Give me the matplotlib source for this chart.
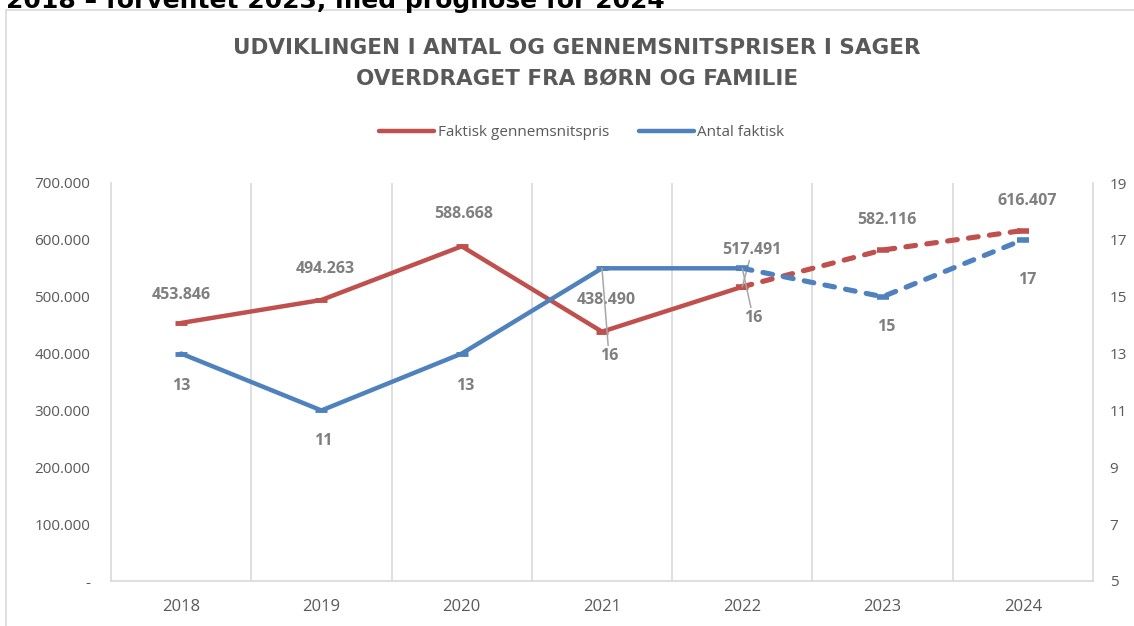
import numpy as np
import matplotlib
matplotlib.use("Agg")
import matplotlib.pyplot as plt
from matplotlib.patches import Rectangle

# -------------------------
# Data
# -------------------------
years = ["2018", "2019", "2020", "2021", "2022", "2023", "2024"]
pris = [453846, 494263, 588668, 438490, 517491, 582116, 616407]
antal = [13, 11, 13, 16, 16, 15, 17]

# last actual year index (dashed after this)
split = 4

# label offsets in pixels (dx, dy) and leader lines
pris_off = [(0, 28), (4, 31), (2, 32), (4, 32), (10, 37), (4, 30), (4, 30)]
antal_off = [(0, -32), (2, -31), (4, -32), (7, -88), (11, -50), (4, -30), (4, -40)]
pris_leader = [False, False, False, False, True, False, False]
antal_leader = [False, False, False, True, True, False, False]

RED = "#c0504d"
BLUE = "#4f81bd"
TXT = "#595959"
LBL = "#7f7f7f"
GRID = "#d9d9d9"

plt.rcParams["font.family"] = ["Open Sans", "DejaVu Sans"]

W, H = 1134, 626
fig = plt.figure(figsize=(W / 100, H / 100), dpi=100)

# chart border
fig.patches.append(Rectangle((6 / W, -0.05), 1.1, 1 - 10 / H + 0.05,
                             transform=fig.transFigure, fill=False,
                             edgecolor=GRID, lw=1.2))

# cut-off heading above the chart (cut off in the reference too)
fig.text(6 / W, 1 - 8 / H, "2018 – forventet 2023, med prognose for 2024",
         fontsize=18, fontweight="bold", family="DejaVu Sans",
         color="black", va="baseline", ha="left")

# title
fig.text(577 / W, 1 - 48 / H,
         "UDVIKLINGEN I ANTAL OG GENNEMSNITSPRISER I SAGER",
         fontsize=15.5, fontweight="bold", family="DejaVu Sans",
         color=TXT, ha="center", va="center")
fig.text(577 / W, 1 - 79 / H,
         "OVERDRAGET FRA BØRN OG FAMILIE",
         fontsize=15.5, fontweight="bold", family="DejaVu Sans",
         color=TXT, ha="center", va="center")

# -------------------------
# Axes
# -------------------------
ax = fig.add_axes([111 / W, 1 - 581 / H, (1093 - 111) / W, (581 - 183) / H])
ax2 = ax.twinx()

x = np.arange(len(years)) + 0.5

ax.set_xlim(0, len(years))
ax.set_ylim(0, 700000)
ax2.set_ylim(5, 19)

yt = np.arange(0, 700001, 100000)
ax.set_yticks(yt, ["-" if v == 0 else f"{v:,}".replace(",", ".") for v in yt])
ax2.set_yticks(np.arange(5, 20, 2))
ax.set_xticks(x, years)
ax.set_xticks(np.arange(1, len(years)), minor=True)
ax.grid(which="minor", axis="x", color=GRID, lw=1.2)

ax.tick_params(axis="y", length=0, pad=15, labelsize=11, labelcolor=TXT)
ax.tick_params(axis="x", which="both", length=0, pad=13, labelsize=12,
               labelcolor=TXT)
ax2.tick_params(axis="y", length=0, pad=12, labelsize=11, labelcolor=TXT)

for s in ["left", "right", "bottom"]:
    ax.spines[s].set_color(GRID)
    ax.spines[s].set_linewidth(1.2)
ax.spines["top"].set_visible(False)
for s in ax2.spines.values():
    s.set_visible(False)

# -------------------------
# Lines
# -------------------------
solid_kw = dict(lw=3.2, marker="_", ms=8, mew=3.5, solid_capstyle="round")
dash_kw = dict(lw=3.7, marker="_", ms=9, mew=4, dash_capstyle="round",
               ls=(0, (1.9, 2.2)))

ax.plot(x[:split + 1], pris[:split + 1], color=RED,
        label="Faktisk gennemsnitspris", **solid_kw)
ax.plot(x[split:], pris[split:], color=RED, **dash_kw)

ax2.plot(x[:split + 1], antal[:split + 1], color=BLUE,
         label="Antal faktisk", **solid_kw)
ax2.plot(x[split:], antal[split:], color=BLUE, **dash_kw)

# -------------------------
# Data labels
# -------------------------
leader = dict(arrowstyle="-", color="#a6a6a6", lw=1.1, shrinkA=0, shrinkB=0)

for xi, v, (dx, dy), ld in zip(x, pris, pris_off, pris_leader):
    ax.annotate(f"{v:,}".replace(",", "."), (xi, v),
                xytext=(dx * 0.72, dy * 0.72), textcoords="offset points",
                ha="center", va="center", fontsize=11.5, fontweight="bold",
                color=LBL, arrowprops=leader if ld else None,
                annotation_clip=False)

for xi, v, (dx, dy), ld in zip(x, antal, antal_off, antal_leader):
    ax2.annotate(str(v), (xi, v),
                 xytext=(dx * 0.72, dy * 0.72), textcoords="offset points",
                 ha="center", va="center", fontsize=11.5, fontweight="bold",
                 color=LBL, arrowprops=leader if ld else None,
                 annotation_clip=False)

# -------------------------
# Legend
# -------------------------
h1, l1 = ax.get_legend_handles_labels()
h2, l2 = ax2.get_legend_handles_labels()
leg = fig.legend(h1 + h2, l1 + l2, loc="center",
                 bbox_to_anchor=(582 / W, 1 - 133 / H), ncol=2,
                 frameon=False, fontsize=11, handlelength=3.6,
                 handletextpad=0.2, columnspacing=2.0, labelcolor=TXT)
for hl in leg.legend_handles:
    hl.set_marker("")

fig.savefig("out.png", dpi=100)
